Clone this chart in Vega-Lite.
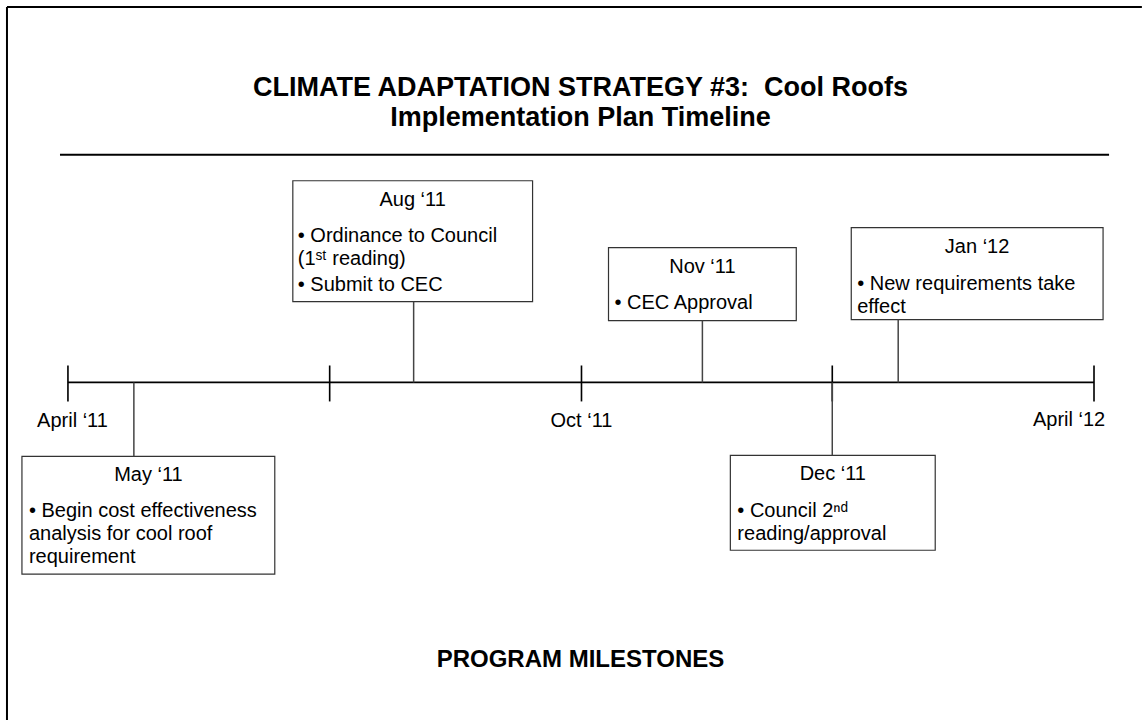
{
  "$schema": "https://vega.github.io/schema/vega-lite/v6.json",
  "width": 1143,
  "height": 721,
  "autosize": {"type": "fit", "contains": "padding"},
  "padding": 0,
  "background": "white",
  "config": {"view": {"stroke": null}},
  "datasets": {
    "lines": [
      {"kind": "frame", "x": -0.713, "x2": 12.56, "y": 7, "y2": 7},
      {"kind": "frame", "x": -0.713, "x2": -0.713, "y": 7, "y2": 721},
      {"kind": "rule", "x": -0.093, "x2": 12.176, "y": 155, "y2": 155},
      {"kind": "axis", "x": 0, "x2": 12.0, "y": 383, "y2": 383},
      {"kind": "tick", "x": 0, "x2": 0, "y": 366, "y2": 402},
      {"kind": "tick", "x": 3.061, "x2": 3.061, "y": 366, "y2": 402},
      {"kind": "tick", "x": 6.006, "x2": 6.006, "y": 366, "y2": 402},
      {"kind": "tick", "x": 8.939, "x2": 8.939, "y": 366, "y2": 402},
      {"kind": "tick", "x": 12.0, "x2": 12.0, "y": 366, "y2": 402},
      {"kind": "connector", "x": 0.771, "x2": 0.771, "y": 383, "y2": 457},
      {"kind": "connector", "x": 4.043, "x2": 4.043, "y": 302, "y2": 383},
      {"kind": "connector", "x": 7.42, "x2": 7.42, "y": 321, "y2": 383},
      {"kind": "connector", "x": 8.939, "x2": 8.939, "y": 383, "y2": 456},
      {"kind": "connector", "x": 9.71, "x2": 9.71, "y": 320, "y2": 383}
    ],
    "boxes": [
      {"milestone": "May '11", "x": -0.538, "x2": 2.419, "y": 457, "y2": 575},
      {"milestone": "Aug '11", "x": 2.63, "x2": 5.434, "y": 181, "y2": 302},
      {"milestone": "Nov '11", "x": 6.322, "x2": 8.518, "y": 248, "y2": 321},
      {"milestone": "Jan '12", "x": 9.161, "x2": 12.106, "y": 228, "y2": 320},
      {"milestone": "Dec '11", "x": 7.747, "x2": 10.143, "y": 456, "y2": 551}
    ],
    "texts": [
      {"kind": "title", "x": 5.994, "y": 88, "text": "CLIMATE ADAPTATION STRATEGY #3:\u00a0 Cool Roofs"},
      {"kind": "title", "x": 5.994, "y": 118, "text": "Implementation Plan Timeline"},
      {"kind": "footer", "x": 5.994, "y": 661, "text": "PROGRAM MILESTONES"},
      {"kind": "axislabel", "x": 0.053, "y": 422, "text": "April \u201811"},
      {"kind": "axislabel", "x": 6.006, "y": 422, "text": "Oct \u201811"},
      {"kind": "axislabel", "x": 11.708, "y": 421, "text": "April \u201812"},
      {"kind": "boxhead", "x": 0.941, "y": 476, "text": "May \u201811"},
      {"kind": "boxhead", "x": 4.031, "y": 200, "text": "Aug \u201811"},
      {"kind": "boxhead", "x": 7.42, "y": 267, "text": "Nov \u201811"},
      {"kind": "boxhead", "x": 10.633, "y": 247, "text": "Jan \u201812"},
      {"kind": "boxhead", "x": 8.945, "y": 475, "text": "Dec \u201811"},
      {"kind": "bullet", "x": -0.456, "y": 512, "text": "\u2022 Begin cost effectiveness"},
      {"kind": "bullet", "x": -0.456, "y": 535, "text": "analysis for cool roof"},
      {"kind": "bullet", "x": -0.456, "y": 558, "text": "requirement"},
      {"kind": "bullet", "x": 2.688, "y": 236, "text": "\u2022 Ordinance to Council"},
      {"kind": "bullet", "x": 2.688, "y": 259, "text": "(1\u02e2\u1d57 reading)"},
      {"kind": "bullet", "x": 2.688, "y": 285, "text": "\u2022 Submit to CEC"},
      {"kind": "bullet", "x": 6.392, "y": 303, "text": "\u2022 CEC Approval"},
      {"kind": "bullet", "x": 9.231, "y": 284, "text": "\u2022 New requirements take"},
      {"kind": "bullet", "x": 9.231, "y": 307, "text": "effect"},
      {"kind": "bullet", "x": 7.829, "y": 512, "text": "\u2022 Council 2\u207f\u1d48"},
      {"kind": "bullet", "x": 7.829, "y": 535, "text": "reading/approval"}
    ]
  },
  "encoding": {
    "x": {"field": "x", "type": "quantitative", "scale": {"domain": [-0.7946, 12.5613], "nice": false, "zero": false}, "axis": null},
    "y": {"field": "y", "type": "quantitative", "scale": {"domain": [0, 721], "reverse": true, "nice": false, "zero": false}, "axis": null}
  },
  "layer": [
    {
      "data": {"name": "boxes"},
      "mark": {"type": "rect", "fill": "white", "stroke": "#333333", "strokeWidth": 1.2},
      "encoding": {"x2": {"field": "x2"}, "y2": {"field": "y2"}}
    },
    {
      "data": {"name": "lines"},
      "mark": {"type": "rule"},
      "encoding": {
        "x2": {"field": "x2"},
        "y2": {"field": "y2"},
        "strokeWidth": {"field": "kind", "type": "nominal", "scale": {"domain": ["frame", "rule", "axis", "tick", "connector"], "range": [2, 1.5, 4.5, 4.5, 1.2]}, "legend": null},
        "color": {"field": "kind", "type": "nominal", "scale": {"domain": ["frame", "rule", "axis", "tick", "connector"], "range": ["#000000", "#000000", "#000000", "#000000", "#444444"]}, "legend": null}
      }
    },
    {
      "data": {"name": "texts"},
      "transform": [{"filter": "datum.kind === 'title'"}],
      "mark": {"type": "text", "font": "Liberation Sans", "fontSize": 27, "fontWeight": "bold", "align": "center", "baseline": "middle", "color": "#000000"},
      "encoding": {"text": {"field": "text"}}
    },
    {
      "data": {"name": "texts"},
      "transform": [{"filter": "datum.kind === 'footer'"}],
      "mark": {"type": "text", "font": "Liberation Sans", "fontSize": 24, "fontWeight": "bold", "align": "center", "baseline": "middle", "color": "#000000"},
      "encoding": {"text": {"field": "text"}}
    },
    {
      "data": {"name": "texts"},
      "transform": [{"filter": "datum.kind === 'axislabel' || datum.kind === 'boxhead'"}],
      "mark": {"type": "text", "font": "Liberation Sans", "fontSize": 20, "align": "center", "baseline": "middle", "color": "#000000"},
      "encoding": {"text": {"field": "text"}}
    },
    {
      "data": {"name": "texts"},
      "transform": [{"filter": "datum.kind === 'bullet'"}],
      "mark": {"type": "text", "font": "Liberation Sans", "fontSize": 20, "align": "left", "baseline": "middle", "color": "#000000"},
      "encoding": {"text": {"field": "text"}}
    }
  ]
}
